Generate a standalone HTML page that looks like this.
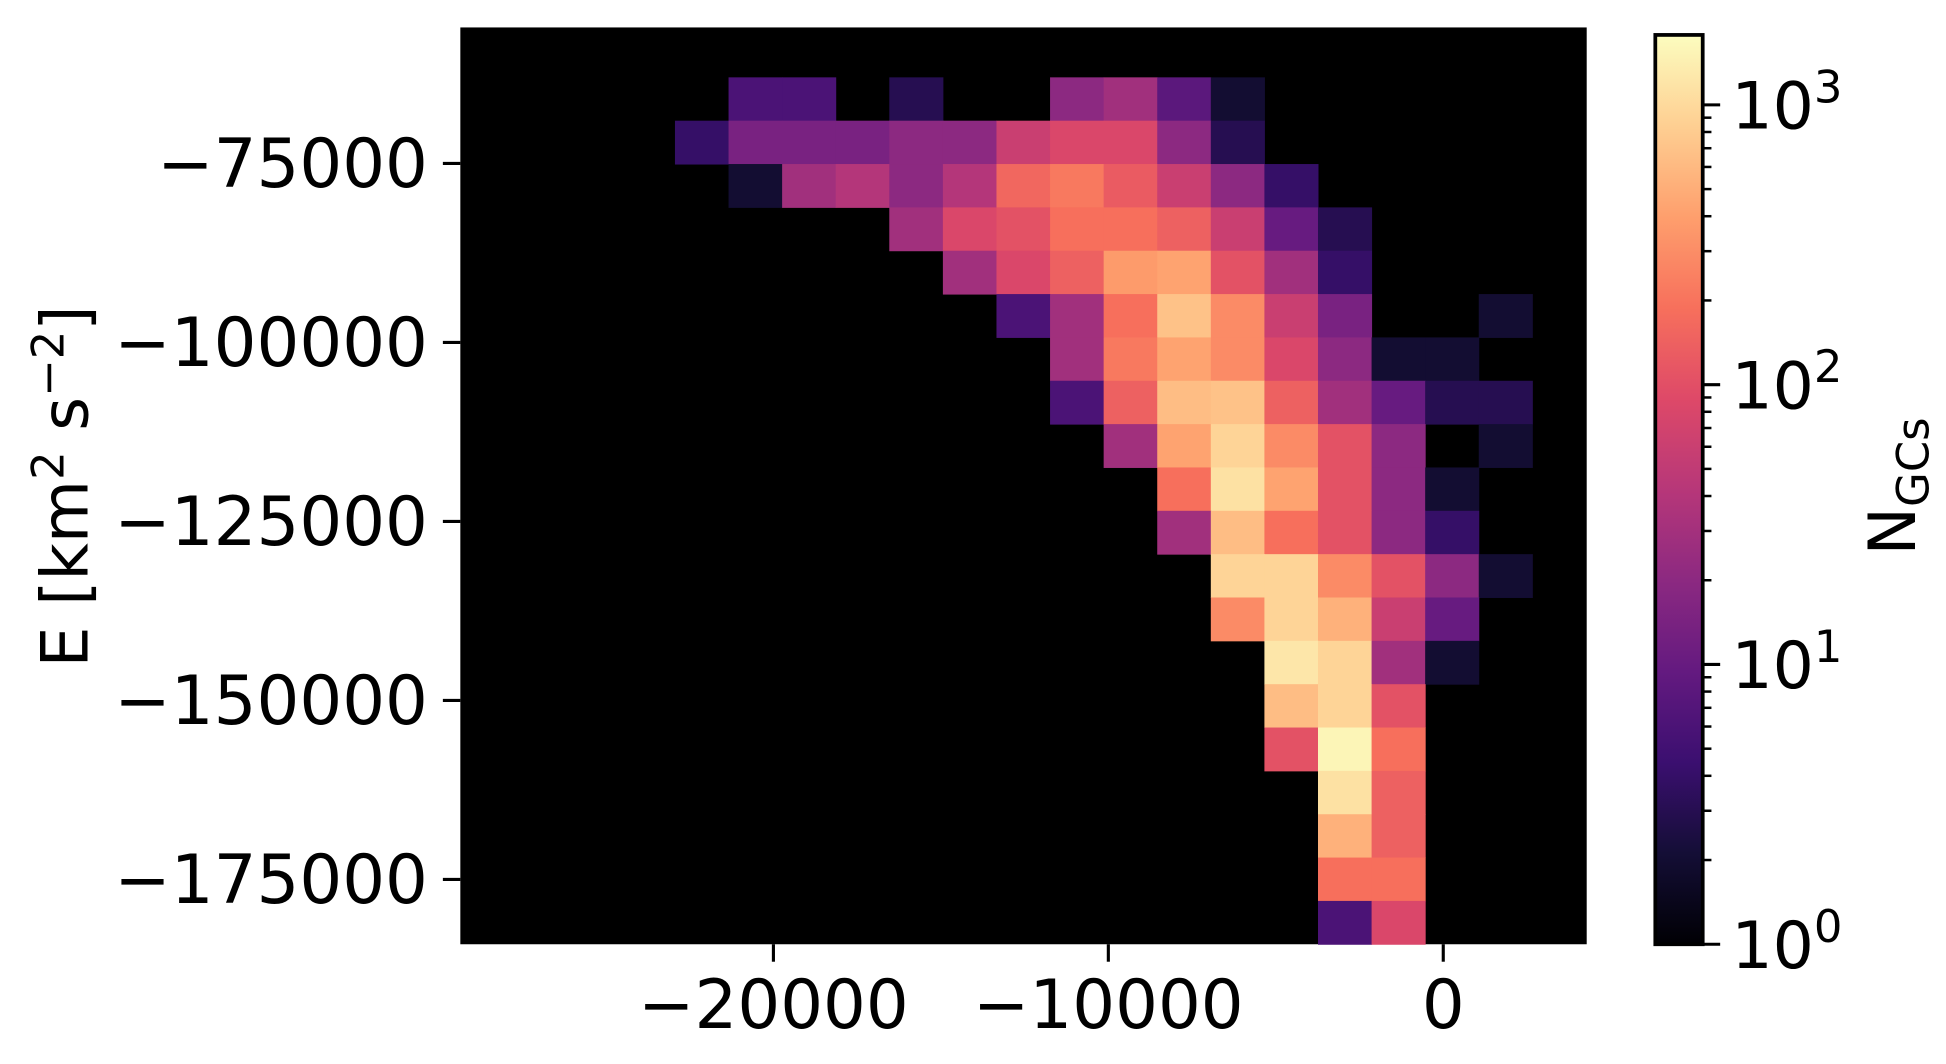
<!DOCTYPE html>
<html><head><meta charset="utf-8"><style>
html,body{margin:0;padding:0;background:#fff;width:1946px;height:1064px;overflow:hidden}
svg{display:block}
text{font-family:"DejaVu Sans","Liberation Sans",sans-serif;fill:#000}
</style></head><body>
<svg id="chart" width="1946" height="1064" viewBox="0 0 1560 853" xmlns="http://www.w3.org/2000/svg">
<defs>
<linearGradient id="magmaGrad" x1="0" y1="1" x2="0" y2="0">
<stop offset="0" stop-color="#000004"/><stop offset="0.1" stop-color="#140e36"/><stop offset="0.2" stop-color="#3b0f70"/><stop offset="0.3" stop-color="#641a80"/><stop offset="0.4" stop-color="#8c2981"/><stop offset="0.5" stop-color="#b73779"/><stop offset="0.6" stop-color="#de4968"/><stop offset="0.7" stop-color="#f7705c"/><stop offset="0.8" stop-color="#fe9f6d"/><stop offset="0.9" stop-color="#fecf92"/><stop offset="1" stop-color="#fcfdbf"/>
</linearGradient>
</defs>
<rect x="369" y="22" width="903" height="735" fill="#000"/>
<g id="cells"></g>
<g id="xaxis"></g>
<g id="yaxis"></g>
<text transform="translate(70,390) rotate(-90)" text-anchor="middle" font-size="52">E [km<tspan dy="-19" font-size="36">2</tspan><tspan dy="19"> s</tspan><tspan dy="-19" font-size="36">−2</tspan><tspan dy="19">]</tspan></text>
<rect x="1327" y="28" width="38" height="729" fill="url(#magmaGrad)" stroke="#000" stroke-width="3"/>
<g id="cbaxis"></g>
<text transform="translate(1535,390) rotate(-90)" text-anchor="middle" font-size="52">N<tspan dy="11" font-size="36">GCs</tspan></text>
</svg>
<script>
// histogram bins (data units)
const xBinStart = -22940;
const xBinWidth = 1600;
const yBinTop = -62980;
const yBinHeight = 6054;
// counts per bin: rows from high E (top) to low E, columns from low x to high x
const counts = [
[0,6,6,0,3,0,0,20,29,8,2,0,0,0,0,0],
[4,14,14,14,20,20,60,83,83,20,3,0,0,0,0,0],
[0,2,29,40,20,40,158,219,126,60,20,4,0,0,0,0],
[0,0,0,0,29,83,105,186,186,141,60,10,3,0,0,0],
[0,0,0,0,0,29,83,141,372,427,105,29,4,0,0,0],
[0,0,0,0,0,0,6,29,186,692,288,60,14,0,0,2],
[0,0,0,0,0,0,0,29,219,427,288,83,20,2,2,0],
[0,0,0,0,0,0,0,6,141,631,692,141,29,10,3,3],
[0,0,0,0,0,0,0,0,29,427,912,288,105,20,0,2],
[0,0,0,0,0,0,0,0,0,186,1122,427,105,20,2,0],
[0,0,0,0,0,0,0,0,0,29,631,186,105,20,4,0],
[0,0,0,0,0,0,0,0,0,0,912,912,288,105,20,2],
[0,0,0,0,0,0,0,0,0,0,288,912,525,60,10,0],
[0,0,0,0,0,0,0,0,0,0,0,1230,912,29,2,0],
[0,0,0,0,0,0,0,0,0,0,0,631,912,105,0,0],
[0,0,0,0,0,0,0,0,0,0,0,105,1549,186,0,0],
[0,0,0,0,0,0,0,0,0,0,0,0,1122,141,0,0],
[0,0,0,0,0,0,0,0,0,0,0,0,525,141,0,0],
[0,0,0,0,0,0,0,0,0,0,0,0,186,186,0,0],
[0,0,0,0,0,0,0,0,0,0,0,0,6,83,0,0]
];
const xTicks = [-20000,-10000,0];
const xTickLabels = ["−20000","−10000","0"];
const yTicks = [-75000,-100000,-125000,-150000,-175000];
const yTickLabels = ["−75000","−100000","−125000","−150000","−175000"];
const cbTicks = [0,1,2,3];
const cbTickLabels = ["0","1","2","3"];

const NS = "http://www.w3.org/2000/svg";
const PX0=369, PX1=1272, PY0=22, PY1=757;
const XMIN=-29348, XMAX=4283, YMAX=-56010, YMIN=-184059;
const LOGMAX=3.25;
function xs(v){return PX0+(v-XMIN)/(XMAX-XMIN)*(PX1-PX0);}
function ys(v){return PY0+(YMAX-v)/(YMAX-YMIN)*(PY1-PY0);}
function cbs(l){return 757-(l/LOGMAX)*(757-28);}
const stops=["#000004","#140e36","#3b0f70","#641a80","#8c2981","#b73779","#de4968","#f7705c","#fe9f6d","#fecf92","#fcfdbf"];
function hex(c){return [1,3,5].map(i=>parseInt(c.substr(i,2),16));}
function magma(t){t=Math.max(0,Math.min(1,t));const p=t*10,i=Math.min(9,Math.floor(p)),f=p-i;const a=hex(stops[i]),b=hex(stops[i+1]);return "rgb("+a.map((v,k)=>Math.round(v+(b[k]-v)*f)).join(",")+")";}
function mk(tag,attrs,parent){const e=document.createElementNS(NS,tag);for(const k in attrs)e.setAttribute(k,attrs[k]);parent.appendChild(e);return e;}

const cg=document.getElementById("cells");
counts.forEach((row,r)=>row.forEach((n,c)=>{
  if(!n)return;
  const x0=xs(xBinStart+c*xBinWidth),x1=xs(xBinStart+(c+1)*xBinWidth);
  const y0=ys(yBinTop-r*yBinHeight),y1=ys(yBinTop-(r+1)*yBinHeight);
  const e=mk("rect",{x:x0,y:y0,width:x1-x0+0.4,height:y1-y0+0.4,fill:magma(Math.log10(n)/LOGMAX)},cg);
  
  
}));

const xg=document.getElementById("xaxis");
xTicks.forEach((v,i)=>{
  const x=xs(v);
  const t=mk("line",{x1:x,x2:x,y1:757,y2:771,stroke:"#000","stroke-width":2.5},xg);
  
  
  const l=mk("text",{x:x,y:824,"text-anchor":"middle","font-size":54},xg);
  l.textContent=xTickLabels[i];
  
  
});
const yg=document.getElementById("yaxis");
yTicks.forEach((v,i)=>{
  const y=ys(v);
  const t=mk("line",{x1:355,x2:369,y1:y,y2:y,stroke:"#000","stroke-width":2.5},yg);
  
  
  const l=mk("text",{x:343,y:y+19,"text-anchor":"end","font-size":54},yg);
  l.textContent=yTickLabels[i];
  
  
});
const cg2=document.getElementById("cbaxis");
for(let d=0;d<4;d++){for(let m=2;m<=9;m++){const l=d+Math.log10(m);if(l>LOGMAX)break;const y=cbs(l);
  const t=mk("line",{x1:1365,x2:1372,y1:y,y2:y,stroke:"#000","stroke-width":2},cg2);
  
  }}
cbTicks.forEach((v,i)=>{
  const y=cbs(v);
  const t=mk("line",{x1:1365,x2:1379,y1:y,y2:y,stroke:"#000","stroke-width":2.5},cg2);
  
  
  const l=mk("text",{x:1388,y:y+19,"font-size":52},cg2);
  l.textContent="10";
  const s=mk("tspan",{dy:-21,"font-size":36},l);
  s.textContent=cbTickLabels[i];
  
  
});
</script>
</body></html>
